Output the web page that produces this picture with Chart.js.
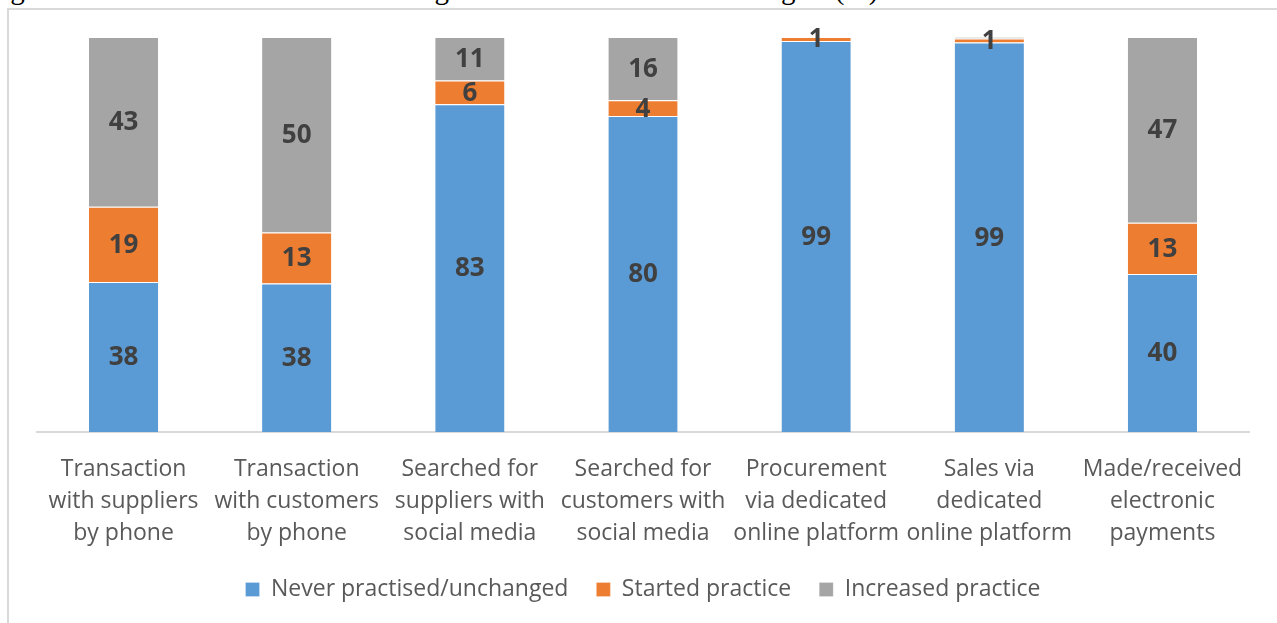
<!DOCTYPE html>
<html>
<head>
<meta charset="utf-8">
<script src="https://cdn.jsdelivr.net/npm/chart.js@4.4.1/dist/chart.umd.min.js"></script>
<style>
  body { margin: 0; background: #fff; width: 1277px; height: 623px; overflow: hidden; position: relative; }
  #title { position: absolute; left: -14px; top: -28px; font-family: "Liberation Serif", serif; font-size: 29px; line-height: 34px; color: #000; white-space: nowrap; }
  #box { position: absolute; left: 7px; top: 8px; width: 1280px; height: 620px; border-left: 2px solid #d9d9d9; border-top: 2px solid #d9d9d9; background: #fff; }
  canvas { display: block; }
</style>
</head>
<body>
<div id="title">Figure 6: Use of selected online and digital communication technologies (%)</div>
<div id="box"><canvas id="chart" width="1268" height="613"></canvas></div>
<script>
// categories and values (%)
const categories = [
  ["Transaction", "with suppliers", "by phone"],
  ["Transaction", "with customers", "by phone"],
  ["Searched for", "suppliers with", "social media"],
  ["Searched for", "customers with", "social media"],
  ["Procurement", "via dedicated", "online platform"],
  ["Sales via", "dedicated", "online platform"],
  ["Made/received", "electronic", "payments"]
];
const neverPractised = [38, 38, 83, 80, 99, 99, 40];
const startedPractice = [19, 13, 6, 4, 1, 1, 13];
const increasedPractice = [43, 50, 11, 16, 0, 0.4, 47];

// 100% stacked: scale each column to its total
const totals = neverPractised.map((v, i) => v + startedPractice[i] + increasedPractice[i]);
const pct = arr => arr.map((v, i) => v / totals[i] * 100);

const labelPlugin = {
  id: "segmentLabels",
  afterDatasetsDraw(chart) {
    const ctx = chart.ctx;
    ctx.save();
    ctx.font = "bold 26px 'Open Sans'";
    ctx.fillStyle = "#404040";
    ctx.textAlign = "center";
    ctx.textBaseline = "middle";
    chart.data.datasets.forEach((ds, di) => {
      chart.getDatasetMeta(di).data.forEach((bar, i) => {
        const raw = ds.raw[i];
        if (raw < 1) return;
        const y = (bar.y + bar.base) / 2;
        ctx.fillText(String(raw), bar.x, y + 1);
      });
    });
    ctx.restore();
  }
};

new Chart(document.getElementById("chart"), {
  type: "bar",
  data: {
    labels: categories,
    datasets: [
      { label: "Never practised/unchanged", data: pct(neverPractised), raw: neverPractised, backgroundColor: "#5B9BD5" },
      { label: "Started practice", data: pct(startedPractice), raw: startedPractice, backgroundColor: "#ED7D31" },
      { label: "Increased practice", data: pct(increasedPractice), raw: increasedPractice, backgroundColor: "#A5A5A5" }
    ]
  },
  options: {
    responsive: false,
    animation: false,
    datasets: {
      bar: { categoryPercentage: 1, barPercentage: 0.4, borderColor: "#ffffff", borderWidth: { top: 1, bottom: 0, left: 0, right: 0 }, borderSkipped: false }
    },
    layout: { padding: { left: 28, right: 28, top: 27, bottom: 12 } },
    plugins: {
      legend: {
        position: "bottom",
        labels: { font: { family: "'Open Sans'", size: 23 }, color: "#595959", boxWidth: 14, boxHeight: 14, padding: 28 }
      },
      tooltip: { enabled: false }
    },
    scales: {
      x: {
        stacked: true,
        grid: { display: false, drawTicks: false },
        border: { color: "#d9d9d9", width: 2 },
        ticks: { font: { family: "'Open Sans'", size: 23, lineHeight: 1.4 }, color: "#595959", padding: 21, maxRotation: 0, autoSkip: false },
        afterFit(scale) { scale.height = 118; }
      },
      y: {
        stacked: true,
        display: false,
        min: 0,
        max: 100
      }
    }
  },
  plugins: [labelPlugin]
});
</script>
</body>
</html>
